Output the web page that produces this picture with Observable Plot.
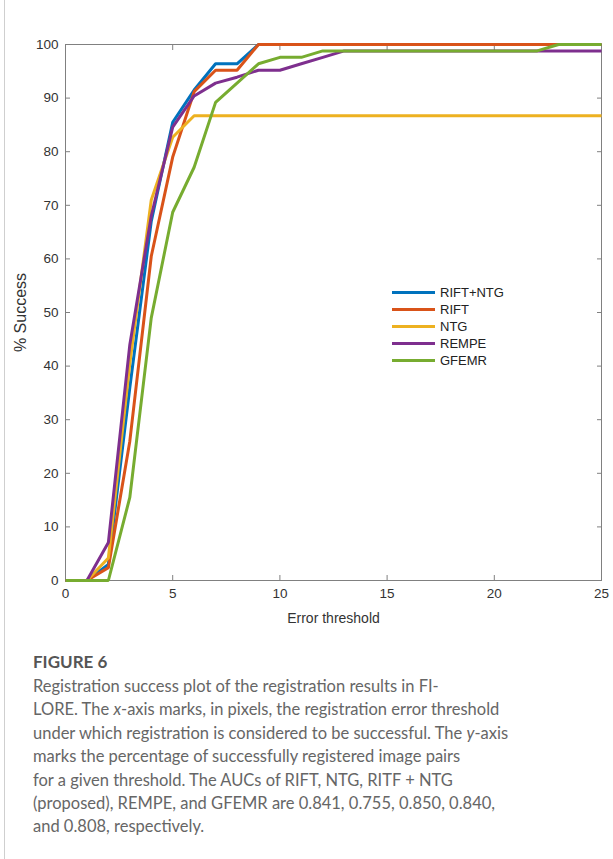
<!DOCTYPE html>
<html>
<head>
<meta charset="utf-8">
<script src="https://cdn.jsdelivr.net/npm/d3@7"></script>
<script src="https://cdn.jsdelivr.net/npm/@observablehq/plot@0.6"></script>
<style>
  html, body { margin: 0; padding: 0; background: #fff; }
  #page { position: relative; width: 613px; height: 859px; overflow: hidden; }
  #border { position: absolute; left: 4px; top: 0; width: 0; height: 859px; border-left: 1.5px solid #cfcfcf; }
  #chart { position: absolute; left: 0; top: 0; }
  #chart svg text { font-size: 13.5px; }
  #chart svg g[aria-label="y-axis label"] text { font-size: 16px; }
  #chart svg g[aria-label="x-axis label"] text { font-size: 14px; }
  #legend { position: absolute; left: 392px; top: 284px; font-family: "Liberation Sans", Arial, sans-serif; font-size: 13px; color: #222; }
  .item { display: flex; align-items: center; height: 16.9px; }
  .swatch { width: 43px; height: 3px; margin-right: 5px; }
  #caption { position: absolute; left: 33px; top: 648px; font-family: Lato, "Open Sans", sans-serif; color: #666; }
  #caption .title { font-weight: bold; font-size: 17px; color: #555; height: 27px; line-height: 27px; }
  #caption .line { font-size: 16.5px; line-height: 23.4px; white-space: nowrap; }
</style>
</head>
<body>
<div id="page">
  <div id="border"></div>
  <div id="chart"></div>
  <div id="legend"></div>
  <div id="caption"></div>
</div>
<script>
// ---- data ----
const thresholds = [0,1,2,3,4,5,6,7,8,9,10,11,12,13,14,15,16,17,18,19,20,21,22,23,24,25];
const seriesNames = ["RIFT+NTG", "RIFT", "NTG", "REMPE", "GFEMR"];
const seriesColors = ["#0072BD", "#D95319", "#EDB120", "#7E2F8E", "#77AC30"];
const riftNtg = [0,0,3,36,67,85.5,91.5,96.4,96.4,100,100,100,100,100,100,100,100,100,100,100,100,100,100,100,100,100];
const rift    = [0,0,2.4,26,60.5,79,91.2,95.2,95.2,100,100,100,100,100,100,100,100,100,100,100,100,100,100,100,100,100];
const ntg     = [0,0,4.2,40.5,71,82.7,86.7,86.7,86.7,86.7,86.7,86.7,86.7,86.7,86.7,86.7,86.7,86.7,86.7,86.7,86.7,86.7,86.7,86.7,86.7,86.7];
const rempe   = [0,0,7.1,44,68,84.6,90.4,92.8,93.9,95.2,95.2,96.4,97.6,98.8,98.8,98.8,98.8,98.8,98.8,98.8,98.8,98.8,98.8,98.8,98.8,98.8];
const gfemr   = [0,0,0,15.5,49,68.7,77.1,89.2,92.8,96.4,97.6,97.6,98.8,98.8,98.8,98.8,98.8,98.8,98.8,98.8,98.8,98.8,98.8,100,100,100];
const xTicks = [0,5,10,15,20,25];
const yTicks = [0,10,20,30,40,50,60,70,80,90,100];
const xLabel = "Error threshold";
const yLabel = "% Success";
const figTitle = "FIGURE 6";
const captionLines = [
  "Registration success plot of the registration results in FI-",
  "LORE. The <i>x</i>-axis marks, in pixels, the registration error threshold",
  "under which registration is considered to be successful. The <i>y</i>-axis",
  "marks the percentage of successfully registered image pairs",
  "for a given threshold. The AUCs of RIFT, NTG, RITF + NTG",
  "(proposed), REMPE, and GFEMR are 0.841, 0.755, 0.850, 0.840,",
  "and 0.808, respectively."
];

const seriesValues = [riftNtg, rift, ntg, rempe, gfemr];
const rows = seriesNames.flatMap((name, i) => thresholds.map((t, j) => ({name, t, v: seriesValues[i][j]})));

const axisColor = "#808080";
const font = "Liberation Sans, Arial, sans-serif";

const chart = Plot.plot({
  width: 613,
  height: 635,
  marginLeft: 65,
  marginRight: 12,
  marginTop: 44,
  marginBottom: 55,
  style: { fontFamily: font, fontSize: "13.5px", color: "#333", background: "transparent" },
  x: { domain: [0, 25] },
  y: { domain: [0, 100] },
  color: { domain: seriesNames, range: seriesColors },
  marks: [
    Plot.frame({ stroke: axisColor, strokeWidth: 1 }),
    Plot.axisX({ anchor: "bottom", ticks: xTicks, tickSize: -5, tickPadding: 13, stroke: axisColor, label: xLabel, labelAnchor: "center", labelOffset: 42, labelArrow: "none" }),
    Plot.axisX({ anchor: "top", ticks: xTicks, tickSize: -5, tickFormat: () => "", stroke: axisColor, label: null }),
    Plot.axisY({ anchor: "left", ticks: yTicks, tickSize: -5, tickPadding: 12, stroke: axisColor, label: yLabel, labelAnchor: "center", labelOffset: 51, labelArrow: "none" }),
    Plot.axisY({ anchor: "right", ticks: yTicks, tickSize: -5, tickFormat: () => "", stroke: axisColor, label: null }),
    ...seriesNames.map(name =>
      Plot.line(rows.filter(d => d.name === name), { x: "t", y: "v", stroke: "name", strokeWidth: 3, strokeLinejoin: "miter", strokeLinecap: "butt" })
    )
  ]
});
document.getElementById("chart").appendChild(chart);

// legend
const legend = document.getElementById("legend");
seriesNames.forEach((name, i) => {
  const item = document.createElement("div");
  item.className = "item";
  const sw = document.createElement("span");
  sw.className = "swatch";
  sw.style.background = seriesColors[i];
  const lab = document.createElement("span");
  lab.textContent = name;
  item.appendChild(sw);
  item.appendChild(lab);
  legend.appendChild(item);
});

// caption
const cap = document.getElementById("caption");
const t = document.createElement("div");
t.className = "title";
t.textContent = figTitle;
cap.appendChild(t);
captionLines.forEach(l => {
  const d = document.createElement("div");
  d.className = "line";
  d.innerHTML = l;
  cap.appendChild(d);
});
</script>
</body>
</html>
